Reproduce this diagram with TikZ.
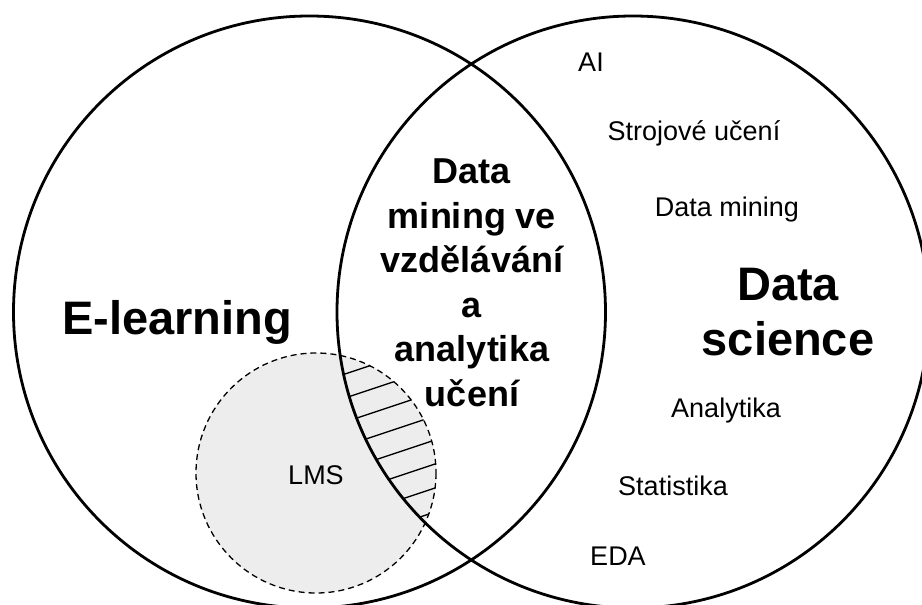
\documentclass[tikz,border=0pt]{standalone}
\usepackage{fontspec}
\setmainfont{Liberation Sans}
\begin{document}
\begin{tikzpicture}[x=1pt,y=-1pt,
  setring/.style={draw=black,line width=2.8pt},
  lmsring/.style={draw=black,line width=1.3pt,dash pattern=on 6pt off 4pt},
  hatchline/.style={draw=black,line width=1.3pt},
  biglabel/.style={font=\fontsize{47}{55}\selectfont\bfseries,align=center,inner sep=0pt},
  midlabel/.style={font=\fontsize{36}{44.5}\selectfont\bfseries,align=center,inner sep=0pt},
  smalllabel/.style={font=\fontsize{27}{30}\selectfont,inner sep=0pt}]
\useasboundingbox (0,0) rectangle (922,605);
\fill[white] (0,0) rectangle (922,605);

% LMS region, light grey
\fill[black!7] (316,473) circle[radius=120];

% hatching where LMS overlaps the data-science set
\begin{scope}
  \clip (316,473) circle[radius=120];
  \clip (633,312) circle[radius=296];
  \foreach \c in {374,398,...,542}
    \draw[hatchline] (320,{\c+25/3}) -- (460,{\c-115/3});
\end{scope}

\draw[lmsring] (316,473) circle[radius=120];

% the two main sets
\draw[setring] (309.5,312) circle[radius=296];
\draw[setring] (633,312) circle[radius=296];

% labels
\node[biglabel,anchor=base] (elearn) at (177,334) {E-learning};
\node[biglabel,anchor=center] (dsci) at (788,312) {Data\\science};
\node[midlabel,anchor=center] (edm) at (472,283) {Data\\mining ve\\vzdělávání\\a\\analytika\\učení};

\node[smalllabel] (ai) at (591,62) {AI};
\node[smalllabel] (ml) at (694,133) {Strojové učení};
\node[smalllabel] (dm) at (727,210) {Data mining};
\node[smalllabel] (an) at (726,411) {Analytika};
\node[smalllabel] (st) at (673,486) {Statistika};
\node[smalllabel] (eda) at (618,556) {EDA};
\node[smalllabel] (lms) at (316,475) {LMS};
\end{tikzpicture}
\end{document}
